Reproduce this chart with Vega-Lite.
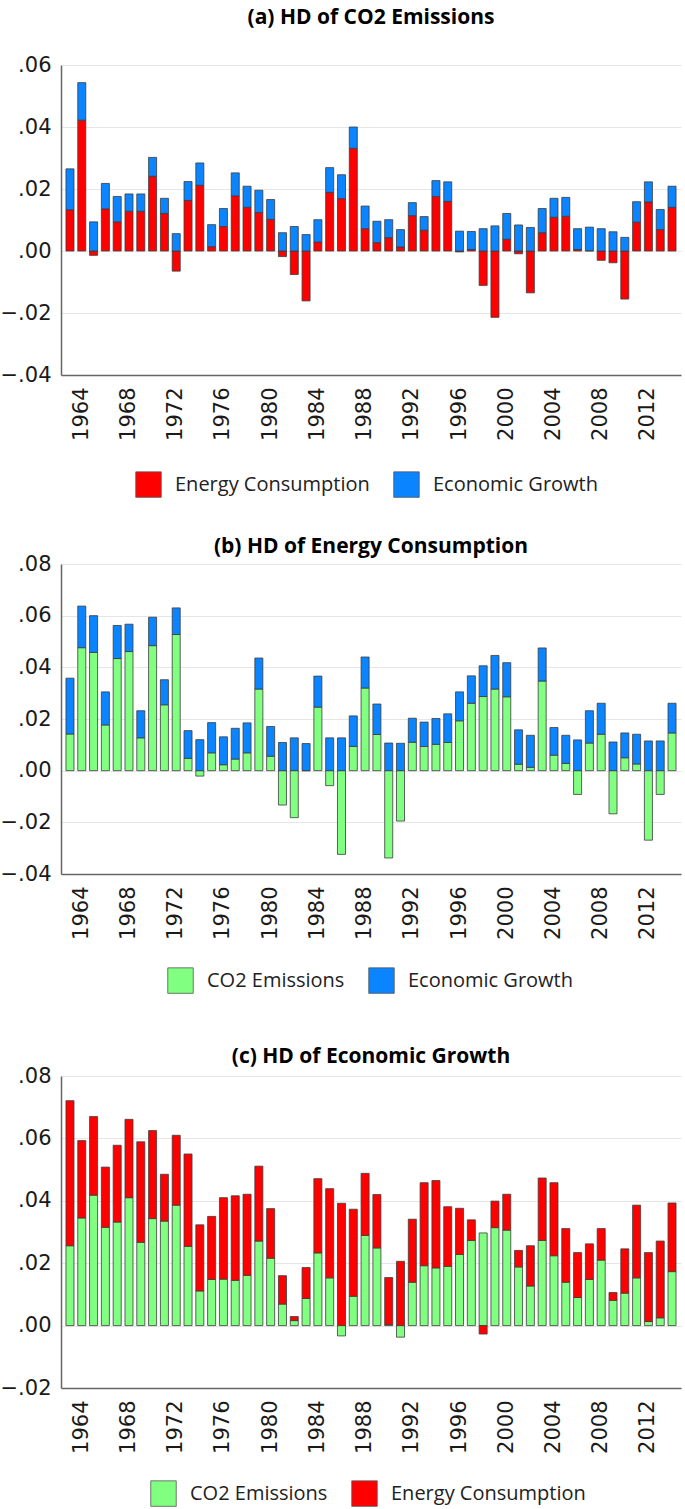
{
  "$schema": "https://vega.github.io/schema/vega-lite/v6.json",
  "padding": {"left": 0, "top": 7, "right": 4, "bottom": 0},
  "datasets": {
    "co2": [
      {"year": 1963, "Energy Consumption": 0.0133, "Economic Growth": 0.0132},
      {"year": 1964, "Energy Consumption": 0.0422, "Economic Growth": 0.0121},
      {"year": 1965, "Energy Consumption": -0.0014, "Economic Growth": 0.0094},
      {"year": 1966, "Energy Consumption": 0.0136, "Economic Growth": 0.0082},
      {"year": 1967, "Energy Consumption": 0.0094, "Economic Growth": 0.0082},
      {"year": 1968, "Energy Consumption": 0.0128, "Economic Growth": 0.0056},
      {"year": 1969, "Energy Consumption": 0.0128, "Economic Growth": 0.0056},
      {"year": 1970, "Energy Consumption": 0.0241, "Economic Growth": 0.0061},
      {"year": 1971, "Energy Consumption": 0.0121, "Economic Growth": 0.0049},
      {"year": 1972, "Energy Consumption": -0.0065, "Economic Growth": 0.0056},
      {"year": 1973, "Energy Consumption": 0.0163, "Economic Growth": 0.0061},
      {"year": 1974, "Energy Consumption": 0.0212, "Economic Growth": 0.0072},
      {"year": 1975, "Energy Consumption": 0.0014, "Economic Growth": 0.0071},
      {"year": 1976, "Energy Consumption": 0.0079, "Economic Growth": 0.0058},
      {"year": 1977, "Energy Consumption": 0.0178, "Economic Growth": 0.0074},
      {"year": 1978, "Energy Consumption": 0.0141, "Economic Growth": 0.0068},
      {"year": 1979, "Energy Consumption": 0.0124, "Economic Growth": 0.0072},
      {"year": 1980, "Energy Consumption": 0.0102, "Economic Growth": 0.0064},
      {"year": 1981, "Energy Consumption": -0.0018, "Economic Growth": 0.0059},
      {"year": 1982, "Energy Consumption": -0.0076, "Economic Growth": 0.0079},
      {"year": 1983, "Energy Consumption": -0.0161, "Economic Growth": 0.0053},
      {"year": 1984, "Energy Consumption": 0.0029, "Economic Growth": 0.0072},
      {"year": 1985, "Energy Consumption": 0.0189, "Economic Growth": 0.0080},
      {"year": 1986, "Energy Consumption": 0.0169, "Economic Growth": 0.0077},
      {"year": 1987, "Energy Consumption": 0.0331, "Economic Growth": 0.0069},
      {"year": 1988, "Energy Consumption": 0.0072, "Economic Growth": 0.0073},
      {"year": 1989, "Energy Consumption": 0.0027, "Economic Growth": 0.0069},
      {"year": 1990, "Energy Consumption": 0.0043, "Economic Growth": 0.0058},
      {"year": 1991, "Energy Consumption": 0.0013, "Economic Growth": 0.0056},
      {"year": 1992, "Energy Consumption": 0.0114, "Economic Growth": 0.0042},
      {"year": 1993, "Energy Consumption": 0.0067, "Economic Growth": 0.0044},
      {"year": 1994, "Energy Consumption": 0.0176, "Economic Growth": 0.0051},
      {"year": 1995, "Energy Consumption": 0.0160, "Economic Growth": 0.0063},
      {"year": 1996, "Energy Consumption": -0.0003, "Economic Growth": 0.0064},
      {"year": 1997, "Energy Consumption": 0.0005, "Economic Growth": 0.0058},
      {"year": 1998, "Energy Consumption": -0.0111, "Economic Growth": 0.0072},
      {"year": 1999, "Energy Consumption": -0.0214, "Economic Growth": 0.0081},
      {"year": 2000, "Energy Consumption": 0.0038, "Economic Growth": 0.0083},
      {"year": 2001, "Energy Consumption": -0.0009, "Economic Growth": 0.0084},
      {"year": 2002, "Energy Consumption": -0.0135, "Economic Growth": 0.0076},
      {"year": 2003, "Energy Consumption": 0.0059, "Economic Growth": 0.0078},
      {"year": 2004, "Energy Consumption": 0.0109, "Economic Growth": 0.0061},
      {"year": 2005, "Energy Consumption": 0.0112, "Economic Growth": 0.0061},
      {"year": 2006, "Energy Consumption": 0.0005, "Economic Growth": 0.0067},
      {"year": 2007, "Energy Consumption": 0.0001, "Economic Growth": 0.0076},
      {"year": 2008, "Energy Consumption": -0.0030, "Economic Growth": 0.0072},
      {"year": 2009, "Energy Consumption": -0.0038, "Economic Growth": 0.0062},
      {"year": 2010, "Energy Consumption": -0.0155, "Economic Growth": 0.0044},
      {"year": 2011, "Energy Consumption": 0.0093, "Economic Growth": 0.0066},
      {"year": 2012, "Energy Consumption": 0.0158, "Economic Growth": 0.0065},
      {"year": 2013, "Energy Consumption": 0.0069, "Economic Growth": 0.0065},
      {"year": 2014, "Energy Consumption": 0.0141, "Economic Growth": 0.0068}
    ],
    "energy": [
      {"year": 1963, "CO2 Emissions": 0.0142, "Economic Growth": 0.0216},
      {"year": 1964, "CO2 Emissions": 0.0476, "Economic Growth": 0.0161},
      {"year": 1965, "CO2 Emissions": 0.0458, "Economic Growth": 0.0142},
      {"year": 1966, "CO2 Emissions": 0.0177, "Economic Growth": 0.0128},
      {"year": 1967, "CO2 Emissions": 0.0434, "Economic Growth": 0.0128},
      {"year": 1968, "CO2 Emissions": 0.0461, "Economic Growth": 0.0106},
      {"year": 1969, "CO2 Emissions": 0.0127, "Economic Growth": 0.0105},
      {"year": 1970, "CO2 Emissions": 0.0484, "Economic Growth": 0.0110},
      {"year": 1971, "CO2 Emissions": 0.0255, "Economic Growth": 0.0097},
      {"year": 1972, "CO2 Emissions": 0.0527, "Economic Growth": 0.0103},
      {"year": 1973, "CO2 Emissions": 0.0048, "Economic Growth": 0.0107},
      {"year": 1974, "CO2 Emissions": -0.0021, "Economic Growth": 0.0120},
      {"year": 1975, "CO2 Emissions": 0.0069, "Economic Growth": 0.0117},
      {"year": 1976, "CO2 Emissions": 0.0023, "Economic Growth": 0.0108},
      {"year": 1977, "CO2 Emissions": 0.0045, "Economic Growth": 0.0119},
      {"year": 1978, "CO2 Emissions": 0.0069, "Economic Growth": 0.0116},
      {"year": 1979, "CO2 Emissions": 0.0316, "Economic Growth": 0.0120},
      {"year": 1980, "CO2 Emissions": 0.0056, "Economic Growth": 0.0115},
      {"year": 1981, "CO2 Emissions": -0.0133, "Economic Growth": 0.0109},
      {"year": 1982, "CO2 Emissions": -0.0182, "Economic Growth": 0.0127},
      {"year": 1983, "CO2 Emissions": 0.0000, "Economic Growth": 0.0105},
      {"year": 1984, "CO2 Emissions": 0.0246, "Economic Growth": 0.0120},
      {"year": 1985, "CO2 Emissions": -0.0058, "Economic Growth": 0.0127},
      {"year": 1986, "CO2 Emissions": -0.0324, "Economic Growth": 0.0127},
      {"year": 1987, "CO2 Emissions": 0.0094, "Economic Growth": 0.0118},
      {"year": 1988, "CO2 Emissions": 0.0320, "Economic Growth": 0.0120},
      {"year": 1989, "CO2 Emissions": 0.0140, "Economic Growth": 0.0118},
      {"year": 1990, "CO2 Emissions": -0.0338, "Economic Growth": 0.0107},
      {"year": 1991, "CO2 Emissions": -0.0195, "Economic Growth": 0.0106},
      {"year": 1992, "CO2 Emissions": 0.0110, "Economic Growth": 0.0093},
      {"year": 1993, "CO2 Emissions": 0.0094, "Economic Growth": 0.0094},
      {"year": 1994, "CO2 Emissions": 0.0102, "Economic Growth": 0.0100},
      {"year": 1995, "CO2 Emissions": 0.0109, "Economic Growth": 0.0111},
      {"year": 1996, "CO2 Emissions": 0.0193, "Economic Growth": 0.0112},
      {"year": 1997, "CO2 Emissions": 0.0261, "Economic Growth": 0.0106},
      {"year": 1998, "CO2 Emissions": 0.0287, "Economic Growth": 0.0119},
      {"year": 1999, "CO2 Emissions": 0.0316, "Economic Growth": 0.0130},
      {"year": 2000, "CO2 Emissions": 0.0286, "Economic Growth": 0.0132},
      {"year": 2001, "CO2 Emissions": 0.0025, "Economic Growth": 0.0133},
      {"year": 2002, "CO2 Emissions": 0.0013, "Economic Growth": 0.0124},
      {"year": 2003, "CO2 Emissions": 0.0347, "Economic Growth": 0.0128},
      {"year": 2004, "CO2 Emissions": 0.0060, "Economic Growth": 0.0107},
      {"year": 2005, "CO2 Emissions": 0.0028, "Economic Growth": 0.0109},
      {"year": 2006, "CO2 Emissions": -0.0092, "Economic Growth": 0.0119},
      {"year": 2007, "CO2 Emissions": 0.0107, "Economic Growth": 0.0125},
      {"year": 2008, "CO2 Emissions": 0.0141, "Economic Growth": 0.0120},
      {"year": 2009, "CO2 Emissions": -0.0167, "Economic Growth": 0.0111},
      {"year": 2010, "CO2 Emissions": 0.0050, "Economic Growth": 0.0096},
      {"year": 2011, "CO2 Emissions": 0.0026, "Economic Growth": 0.0115},
      {"year": 2012, "CO2 Emissions": -0.0269, "Economic Growth": 0.0115},
      {"year": 2013, "CO2 Emissions": -0.0092, "Economic Growth": 0.0115},
      {"year": 2014, "CO2 Emissions": 0.0146, "Economic Growth": 0.0115}
    ],
    "growth": [
      {"year": 1963, "CO2 Emissions": 0.0256, "Energy Consumption": 0.0465},
      {"year": 1964, "CO2 Emissions": 0.0345, "Energy Consumption": 0.0248},
      {"year": 1965, "CO2 Emissions": 0.0418, "Energy Consumption": 0.0252},
      {"year": 1966, "CO2 Emissions": 0.0315, "Energy Consumption": 0.0193},
      {"year": 1967, "CO2 Emissions": 0.0332, "Energy Consumption": 0.0246},
      {"year": 1968, "CO2 Emissions": 0.0410, "Energy Consumption": 0.0251},
      {"year": 1969, "CO2 Emissions": 0.0267, "Energy Consumption": 0.0322},
      {"year": 1970, "CO2 Emissions": 0.0343, "Energy Consumption": 0.0282},
      {"year": 1971, "CO2 Emissions": 0.0335, "Energy Consumption": 0.0150},
      {"year": 1972, "CO2 Emissions": 0.0386, "Energy Consumption": 0.0224},
      {"year": 1973, "CO2 Emissions": 0.0254, "Energy Consumption": 0.0296},
      {"year": 1974, "CO2 Emissions": 0.0111, "Energy Consumption": 0.0212},
      {"year": 1975, "CO2 Emissions": 0.0148, "Energy Consumption": 0.0202},
      {"year": 1976, "CO2 Emissions": 0.0149, "Energy Consumption": 0.0261},
      {"year": 1977, "CO2 Emissions": 0.0145, "Energy Consumption": 0.0271},
      {"year": 1978, "CO2 Emissions": 0.0161, "Energy Consumption": 0.0260},
      {"year": 1979, "CO2 Emissions": 0.0271, "Energy Consumption": 0.0240},
      {"year": 1980, "CO2 Emissions": 0.0216, "Energy Consumption": 0.0159},
      {"year": 1981, "CO2 Emissions": 0.0069, "Energy Consumption": 0.0091},
      {"year": 1982, "CO2 Emissions": 0.0016, "Energy Consumption": 0.0013},
      {"year": 1983, "CO2 Emissions": 0.0087, "Energy Consumption": 0.0099},
      {"year": 1984, "CO2 Emissions": 0.0233, "Energy Consumption": 0.0238},
      {"year": 1985, "CO2 Emissions": 0.0153, "Energy Consumption": 0.0286},
      {"year": 1986, "CO2 Emissions": -0.0033, "Energy Consumption": 0.0392},
      {"year": 1987, "CO2 Emissions": 0.0094, "Energy Consumption": 0.0279},
      {"year": 1988, "CO2 Emissions": 0.0289, "Energy Consumption": 0.0199},
      {"year": 1989, "CO2 Emissions": 0.0249, "Energy Consumption": 0.0171},
      {"year": 1990, "CO2 Emissions": 0.0003, "Energy Consumption": 0.0151},
      {"year": 1991, "CO2 Emissions": -0.0037, "Energy Consumption": 0.0206},
      {"year": 1992, "CO2 Emissions": 0.0139, "Energy Consumption": 0.0202},
      {"year": 1993, "CO2 Emissions": 0.0192, "Energy Consumption": 0.0266},
      {"year": 1994, "CO2 Emissions": 0.0185, "Energy Consumption": 0.0280},
      {"year": 1995, "CO2 Emissions": 0.0190, "Energy Consumption": 0.0191},
      {"year": 1996, "CO2 Emissions": 0.0228, "Energy Consumption": 0.0148},
      {"year": 1997, "CO2 Emissions": 0.0273, "Energy Consumption": 0.0066},
      {"year": 1998, "CO2 Emissions": 0.0297, "Energy Consumption": -0.0027},
      {"year": 1999, "CO2 Emissions": 0.0314, "Energy Consumption": 0.0085},
      {"year": 2000, "CO2 Emissions": 0.0306, "Energy Consumption": 0.0115},
      {"year": 2001, "CO2 Emissions": 0.0188, "Energy Consumption": 0.0053},
      {"year": 2002, "CO2 Emissions": 0.0127, "Energy Consumption": 0.0129},
      {"year": 2003, "CO2 Emissions": 0.0273, "Energy Consumption": 0.0200},
      {"year": 2004, "CO2 Emissions": 0.0224, "Energy Consumption": 0.0234},
      {"year": 2005, "CO2 Emissions": 0.0139, "Energy Consumption": 0.0172},
      {"year": 2006, "CO2 Emissions": 0.0090, "Energy Consumption": 0.0144},
      {"year": 2007, "CO2 Emissions": 0.0148, "Energy Consumption": 0.0114},
      {"year": 2008, "CO2 Emissions": 0.0210, "Energy Consumption": 0.0101},
      {"year": 2009, "CO2 Emissions": 0.0081, "Energy Consumption": 0.0025},
      {"year": 2010, "CO2 Emissions": 0.0104, "Energy Consumption": 0.0142},
      {"year": 2011, "CO2 Emissions": 0.0153, "Energy Consumption": 0.0233},
      {"year": 2012, "CO2 Emissions": 0.0013, "Energy Consumption": 0.0221},
      {"year": 2013, "CO2 Emissions": 0.0025, "Energy Consumption": 0.0246},
      {"year": 2014, "CO2 Emissions": 0.0173, "Energy Consumption": 0.0220}
    ]
  },
  "spacing": 37,
  "resolve": {
    "scale": {"x": "independent", "y": "independent", "color": "independent"},
    "axis": {"x": "independent", "y": "independent"},
    "legend": {"color": "independent"}
  },
  "vconcat": [
    {
      "title": {"text": "(a) HD of CO2 Emissions", "offset": 26},
      "data": {"name": "co2"},
      "transform": [{"fold": ["Energy Consumption", "Economic Growth"], "as": ["series", "value"]}],
      "width": 620,
      "height": 310,
      "mark": {"type": "bar", "stroke": "#3c3c3c", "strokeWidth": 0.8},
      "encoding": {
        "x": {
          "field": "year", "type": "ordinal",
          "scale": {"paddingInner": 0.32, "paddingOuter": 0.42},
          "axis": {
            "title": null,
            "values": [1964, 1968, 1972, 1976, 1980, 1984, 1988, 1992, 1996, 2000, 2004, 2008, 2012],
            "bandPosition": -0.24,
            "gridOpacity": {"condition": {"test": "datum.value % 8 != 4", "value": 0}, "value": 1}
          }
        },
        "y": {
          "field": "value", "type": "quantitative", "stack": "zero",
          "scale": {"domain": [-0.04, 0.06], "nice": false},
          "axis": {"title": null, "values": [-0.04, -0.02, 0, 0.02, 0.04, 0.06]}
        },
        "color": {
          "field": "series", "type": "nominal",
          "scale": {"domain": ["Energy Consumption", "Economic Growth"], "range": ["#ff0000", "#0a84ff"]},
          "legend": {"title": null, "legendX": 74, "legendY": 406}
        },
        "order": {"field": "series", "sort": "descending"}
      }
    },
    {
      "spacing": 51,
      "resolve": {
        "scale": {"x": "independent", "y": "independent", "color": "independent"},
        "axis": {"x": "independent", "y": "independent"},
        "legend": {"color": "independent"}
      },
      "vconcat": [
        {
          "title": {"text": "(b) HD of Energy Consumption", "offset": -4},
          "data": {"name": "energy"},
          "transform": [{"fold": ["CO2 Emissions", "Economic Growth"], "as": ["series", "value"]}],
          "width": 620,
          "height": 310,
          "mark": {"type": "bar", "stroke": "#3c3c3c", "strokeWidth": 0.8},
          "encoding": {
            "x": {
              "field": "year", "type": "ordinal",
              "scale": {"paddingInner": 0.32, "paddingOuter": 0.42},
              "axis": {
                "title": null,
                "values": [1964, 1968, 1972, 1976, 1980, 1984, 1988, 1992, 1996, 2000, 2004, 2008, 2012],
                "bandPosition": -0.24,
                "gridOpacity": {"condition": {"test": "datum.value % 8 != 4", "value": 0}, "value": 1}
              }
            },
            "y": {
              "field": "value", "type": "quantitative", "stack": "zero",
              "scale": {"domain": [-0.04, 0.08], "nice": false},
              "axis": {"title": null, "values": [-0.04, -0.02, 0, 0.02, 0.04, 0.06, 0.08]}
            },
            "color": {
              "field": "series", "type": "nominal",
              "scale": {"domain": ["CO2 Emissions", "Economic Growth"], "range": ["#80ff80", "#0a84ff"]},
              "legend": {"title": null, "legendX": 106, "legendY": 403}
            },
            "order": {"field": "series", "sort": "ascending"}
          }
        },
        {
          "title": {"text": "(c) HD of Economic Growth", "offset": -2},
          "data": {"name": "growth"},
          "transform": [{"fold": ["CO2 Emissions", "Energy Consumption"], "as": ["series", "value"]}],
          "width": 620,
          "height": 312,
          "mark": {"type": "bar", "stroke": "#3c3c3c", "strokeWidth": 0.8},
          "encoding": {
            "x": {
              "field": "year", "type": "ordinal",
              "scale": {"paddingInner": 0.32, "paddingOuter": 0.42},
              "axis": {
                "title": null,
                "values": [1964, 1968, 1972, 1976, 1980, 1984, 1988, 1992, 1996, 2000, 2004, 2008, 2012],
                "bandPosition": -0.24,
                "gridOpacity": {"condition": {"test": "datum.value % 8 != 4", "value": 0}, "value": 1}
              }
            },
            "y": {
              "field": "value", "type": "quantitative", "stack": "zero",
              "scale": {"domain": [-0.02, 0.08], "nice": false},
              "axis": {"title": null, "values": [-0.02, 0, 0.02, 0.04, 0.06, 0.08]}
            },
            "color": {
              "field": "series", "type": "nominal",
              "scale": {"domain": ["CO2 Emissions", "Energy Consumption"], "range": ["#80ff80", "#ff0000"]},
              "legend": {"title": null, "legendX": 89, "legendY": 404}
            },
            "order": {"field": "series", "sort": "ascending"}
          }
        }
      ]
    }
  ],
  "config": {
    "view": {"stroke": null},
    "title": {"font": "Open Sans", "fontSize": 21, "fontWeight": "bold", "anchor": "middle", "frame": "group", "baseline": "alphabetic", "color": "#000000"},
    "axis": {"labelFont": "DejaVu Sans", "labelFontSize": 21, "labelColor": "#1a1a1a", "ticks": false, "domainColor": "#666666", "domainWidth": 1.5, "gridColor": "#e6e6e6", "gridWidth": 1},
    "axisX": {"labelAngle": -90, "labelPadding": 12},
    "axisY": {"labelPadding": 10, "labelExpr": "replace(format(datum.value, '.2f'), '0.', '.')"},
    "legend": {"orient": "none", "direction": "horizontal", "symbolType": "square", "symbolSize": 650, "symbolStrokeColor": "#555555", "symbolStrokeWidth": 0.8, "labelFont": "Open Sans", "labelFontSize": 20, "labelLimit": 400, "labelColor": "#222222", "labelOffset": 13, "columnPadding": 22, "padding": 0}
  }
}
